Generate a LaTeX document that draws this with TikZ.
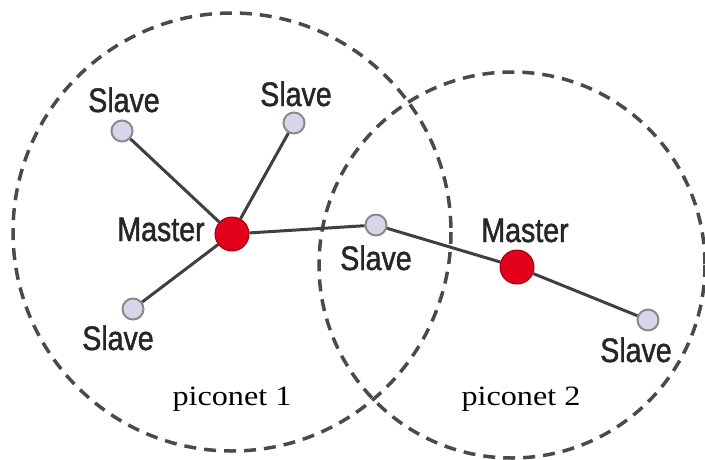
\documentclass[tikz,border=0pt]{standalone}
\usepackage{fontspec}
\newfontfamily\labfont[FakeStretch=0.84,FakeBold=1.3]{Liberation Sans}
\newfontfamily\picfont[FakeStretch=1.15]{Liberation Serif}
\definecolor{edgegray}{HTML}{404040}
\definecolor{dashgray}{HTML}{4A4A4A}
\definecolor{textgray}{HTML}{262626}
\definecolor{slavefill}{HTML}{D8D5EA}
\definecolor{slavedraw}{HTML}{8A8A8A}
\definecolor{masterfill}{HTML}{E2001A}
\definecolor{masterdraw}{HTML}{A00012}
\tikzset{
  slavenode/.style={circle, fill=slavefill, draw=slavedraw, line width=2pt, minimum size=21pt, inner sep=0pt},
  masternode/.style={circle, fill=masterfill, draw=masterdraw, line width=1pt, minimum size=34pt, inner sep=0pt},
  devlabel/.style={anchor=base, text=textgray, font=\labfont\fontsize{34}{40}\selectfont, inner sep=0pt},
  piclabel/.style={anchor=base, text=black, font=\picfont\fontsize{28}{32}\selectfont, inner sep=0pt},
  netlink/.style={draw=edgegray, line width=3pt},
  rangecircle/.style={draw=dashgray, line width=3.5pt, dash pattern=on 12pt off 8pt}
}
\begin{document}
\begin{tikzpicture}[x=1pt, y=-1pt]
\useasboundingbox (0,0) rectangle (705,459);
% piconet ranges
\draw[rangecircle] (232,232) circle (219);
\draw[rangecircle] (512,265) circle (193);
% nodes
\node[masternode] (m1) at (232,234) {};
\node[masternode] (m2) at (517,267) {};
\node[slavenode] (s1) at (122,131) {};
\node[slavenode] (s2) at (294,123) {};
\node[slavenode] (s3) at (133,309) {};
\node[slavenode] (s4) at (376,225) {};
\node[slavenode] (s5) at (648,320) {};
% links
\draw[netlink] (m1) -- (s1);
\draw[netlink] (m1) -- (s2);
\draw[netlink] (m1) -- (s3);
\draw[netlink] (m1) -- (s4);
\draw[netlink] (s4) -- (m2);
\draw[netlink] (m2) -- (s5);
% labels
\node[devlabel] (l1) at (124,112) {Slave};
\node[devlabel] (l2) at (296,106) {Slave};
\node[devlabel] (l3) at (161,241) {Master};
\node[devlabel] (l4) at (376,270) {Slave};
\node[devlabel] (l5) at (525,242) {Master};
\node[devlabel] (l6) at (118,350) {Slave};
\node[devlabel] (l7) at (636,362) {Slave};
\node[piclabel] (p1) at (232,405) {piconet 1};
\node[piclabel] (p2) at (521,405) {piconet 2};
\end{tikzpicture}
\end{document}
